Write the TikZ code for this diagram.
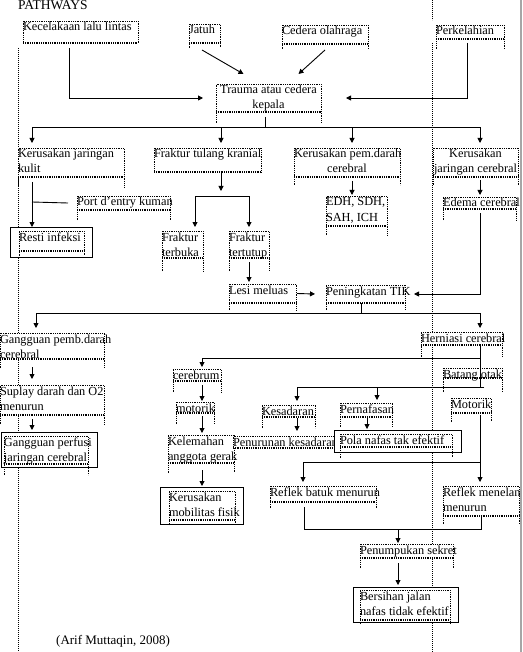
\documentclass[tikz,border=0pt]{standalone}
\usepackage{fontspec}
\setmainfont{Liberation Serif}
\usetikzlibrary{arrows.meta}
\newcommand\tstrut{\rule{0pt}{10pt}}
\tikzset{
  guide/.style={line width=0.6pt, dash pattern=on 0.6pt off 1.4pt, black},
  tbnode/.style={fill=white, inner sep=0pt, outer sep=0pt, anchor=north west, font=\fontsize{12.3pt}{15pt}\selectfont},
  tbline/.style={line width=0.6pt, dash pattern=on 0.6pt off 1.2pt, black},
  tbthick/.style={line width=1.3pt, dash pattern=on 0.8pt off 1pt, black},
  solidframe/.style={draw=black, line width=0.9pt, fill=white, inner sep=0pt, outer sep=0pt, anchor=north west},
  conn/.style={line width=0.9pt, black},
  arr/.style={conn, -{Triangle[length=5pt,width=5pt]}},
  plain/.style={inner sep=0pt, font=\fontsize{12pt}{15pt}\selectfont},
}
% #1 align, #2 name, #3 x1, #4 y1 (top), #5 x2, #6 y2 (thick bottom), #7 y3 (side ends), #8 text
\newcommand\tbox[8][\raggedright]{%
  \pgfmathsetmacro\tbW{#5-#3}%
  \pgfmathsetmacro\tbT{#6-#4}%
  \pgfmathsetmacro\tbE{#7-#6}%
  \node[tbnode] (#2) at (#3,#4) {\parbox[t][\tbT pt][t]{\tbW pt}{#1\tstrut #8}};
  \draw[tbline] ([yshift=-\tbE pt]#2.south west) -- (#2.north west) -- (#2.north east) -- ([yshift=-\tbE pt]#2.south east);
  \draw[tbthick] (#2.south west) -- (#2.south east);
}
% #1 name, #2 x1, #3 y1, #4 x2, #5 y2
\newcommand\sframe[5]{%
  \pgfmathsetmacro\sfW{#4-#2}%
  \pgfmathsetmacro\sfH{#5-#3}%
  \node[solidframe, minimum width=\sfW pt, minimum height=\sfH pt] (#1) at (#2,#3) {};
}
\begin{document}
\begin{tikzpicture}[x=1pt,y=-1pt]
\useasboundingbox[fill=white] (0,0) rectangle (522,652);
% page guides
\draw[guide] (18,48) -- (18,652);
\draw[guide] (432,0) -- (432,20);
\draw[guide] (432,43) -- (432,652);

% title
\node[plain, font=\fontsize{13.5pt}{15pt}\selectfont, anchor=base west] (title) at (18,10) {PATHWAYS};

% causes
\tbox{kec}{23}{21}{138}{43}{43}{\mbox{Kecelakaan lalu lintas}}
\tbox{jatuh}{189}{24}{220}{43}{48}{\mbox{Jatuh}}
\tbox{cedera}{282}{25}{368}{44}{49}{\mbox{Cedera olahraga}}
\tbox{perk}{436}{25}{504}{39}{49}{\mbox{Perkelahian}}
\tbox[\centering]{trauma}{216}{84}{321}{112}{123}{\mbox{Trauma atau cedera}\\\mbox{kepala}}

% level 2
\tbox{kulit}{18}{148}{124}{177}{187}{\mbox{Kerusakan jaringan}\\\mbox{kulit}}
\tbox{kranial}{154}{148}{261}{172}{172}{\mbox{Fraktur tulang kranial}}
\tbox[\centering]{pemdarah}{294}{148}{400}{177}{185}{\mbox{Kerusakan pem.darah}\\\mbox{cerebral}}
\tbox[\centering]{jarcer}{433}{148}{518}{177}{185}{\mbox{Kerusakan}\\\mbox{jaringan cerebral}}

\tbox{port}{77}{196}{170}{210}{220}{\mbox{Port d’entry kuman}}
\sframe{restiO}{10}{227}{92}{257}
\tbox{restiI}{19}{231}{84}{251}{256}{\mbox{Resti infeksi}}
\tbox{terbuka}{162}{231}{203}{258}{271}{\mbox{Fraktur}\\\mbox{terbuka}}
\tbox{tertutup}{229}{231}{269}{258}{271}{\mbox{Fraktur}\\\mbox{tertutup}}
\tbox{lesi}{229}{284}{296}{303}{310}{\mbox{Lesi meluas}}
\tbox{tik}{326}{285}{405}{303}{310}{\mbox{Peningkatan TIK}}
\tbox{edh}{326}{196}{387}{226}{235}{\mbox{EDH, SDH,}\\\mbox{SAH, ICH}}
\tbox{edema}{443}{197}{516}{209}{220}{\mbox{Edema cerebral}}

% left column
\tbox{gpemb}{0}{333}{104}{359}{368}{\mbox{Gangguan pemb.darah}\\\mbox{cerebral}}
\tbox{suplay}{0}{385}{104}{415}{424}{\mbox{Suplay darah dan O2}\\\mbox{menurun}}
\sframe{gperfO}{1}{432}{97}{467}
\tbox{gperfI}{4}{436}{88}{464}{475}{\mbox{Gangguan perfusi}\\\mbox{jaringan cerebral}}

% right part
\tbox{herniasi}{421}{332}{502}{345}{357}{\mbox{Herniasi cerebral}}
\tbox{cerebrum}{173}{369}{221}{381}{392}{\mbox{cerebrum}}
\tbox{motorik}{176}{402}{214}{413}{424}{\mbox{motorik}}
\tbox{kelemahan}{168}{435}{234}{463}{473}{\mbox{Kelemahan}\\\mbox{anggota gerak}}
\sframe{mobilO}{160}{487}{243}{524}
\tbox{mobilI}{169}{491}{235}{520}{525}{\mbox{Kerusakan}\\\mbox{mobilitas fisik}}
\tbox{batang}{443}{368}{502}{378}{392}{\mbox{Batang otak}}
\tbox{kesadaran}{262}{405}{315}{417}{428}{\mbox{Kesadaran}}
\tbox{pernafasan}{340}{403}{392}{417}{427}{\mbox{Pernafasan}}
\tbox{penkes}{233}{436}{335}{448}{448}{\mbox{Penurunan kesadaran}}
\sframe{polaO}{334}{430}{461}{452}
\tbox{polaI}{340}{434}{452}{447}{458}{\mbox{Pola nafas tak efektif}}
\tbox{motorikr}{451}{398}{491}{413}{422}{\mbox{Motorik}}
\tbox{batuk}{270}{486}{376}{502}{508}{\mbox{Reflek batuk menurun}}
\tbox{menelan}{443}{486}{519}{516}{524}{\mbox{Reflek menelan}\\\mbox{menurun}}
\tbox{sekret}{360}{544}{453}{558}{568}{\mbox{Penumpukan sekret}}
\sframe{bersihanO}{353}{587}{458}{622}
\tbox{bersihanI}{360}{590}{450}{620}{624}{\mbox{Bersihan jalan}\\\mbox{nafas tidak efektif}}

% connectors: causes -> trauma
\draw[arr] ([xshift=-11.5pt,yshift=-5pt]kec.south) |- ([xshift=-13pt]trauma.west);
\draw[arr] ([xshift=-2.5pt,yshift=-7pt]jatuh.south) -- ([xshift=-25pt,yshift=10pt]trauma.north);
\draw[arr] ([yshift=-6pt]cedera.south) -- ([xshift=30pt,yshift=10pt]trauma.north);
\draw[arr] ([xshift=-3pt,yshift=-4pt]perk.south) |- ([xshift=25pt]trauma.east);

% trauma -> level 2
\coordinate (tsplit) at (265,127);
\draw[conn] ([xshift=-3.5pt,yshift=-5pt]trauma.south) -- (tsplit);
\draw[arr] (tsplit) -| ([xshift=-39pt,yshift=5pt]kulit.north);
\draw[arr] (tsplit) -| ([xshift=13.5pt,yshift=5pt]kranial.north);
\draw[arr] (tsplit) -| ([xshift=5pt,yshift=5pt]pemdarah.north);
\draw[arr] (tsplit) -| ([xshift=4.5pt,yshift=5pt]jarcer.north);

% kulit
\draw[arr] ([xshift=-39pt,yshift=-5pt]kulit.south) -- ([xshift=-19pt]restiO.north);
\coordinate (kb) at (32,202);
\draw[conn] (kb) -- ([xshift=-9pt]port.west);

% kranial
\draw[arr] ([xshift=13.5pt]kranial.south) -- ([xshift=13.5pt,yshift=-19pt]kranial.south);
\coordinate (ks) at (222,196);
\draw[arr] (ks) -| ([xshift=12.5pt,yshift=4pt]terbuka.north);
\draw[arr] (ks) -| ([yshift=4pt]tertutup.north);
\draw[arr] ([yshift=-4pt]tertutup.south) -- ([xshift=-13.5pt,yshift=2pt]lesi.north);
\draw[arr] ([xshift=1pt]lesi.east) -- ([xshift=-11pt]tik.west);

% pem.darah, jaringan cerebral
\draw[arr] ([xshift=5pt,yshift=-4pt]pemdarah.south) -- ([xshift=-4.5pt,yshift=1pt]edh.north);
\draw[arr] ([xshift=4.5pt,yshift=-3pt]jarcer.south) -- ([xshift=0.5pt,yshift=2pt]edema.north);
\draw[arr] ([xshift=0.5pt,yshift=-4pt]edema.south) |- ([xshift=9pt]tik.east);

% TIK -> split
\coordinate (tb) at (361,313);
\draw[conn] ([xshift=-4.5pt]tik.south) -- (tb);
\draw[arr] (tb) -| ([xshift=-16pt,yshift=5pt]gpemb.north);
\draw[arr] (tb) -| ([xshift=18.5pt,yshift=4pt]herniasi.north);

% left column
\draw[arr] ([xshift=-20pt,yshift=-8pt]gpemb.south) -- ([xshift=-20pt,yshift=6pt]suplay.north);
\draw[arr] ([xshift=-20pt,yshift=-4pt]suplay.south) -- ([xshift=-17pt,yshift=2pt]gperfO.north);

% herniasi
\draw[conn] ([xshift=18.5pt]herniasi.south) -- ([xshift=18.5pt,yshift=-42pt]herniasi.south);
\coordinate (hsplit) at (480,358);
\draw[arr] (hsplit) -| ([xshift=5pt,yshift=2pt]cerebrum.north);
\draw[arr] ([xshift=5pt,yshift=-4pt]cerebrum.south) -- ([xshift=7pt,yshift=1pt]motorik.north);
\draw[arr] ([xshift=7pt,yshift=-3pt]motorik.south) -- ([xshift=1pt,yshift=2pt]kelemahan.north);
\draw[arr] ([xshift=1pt,yshift=-7pt]kelemahan.south) -- ([xshift=0.5pt,yshift=1pt]mobilO.north);

% batang otak
\coordinate (bsplit) at (484,387);
\draw[arr] (bsplit) -| ([xshift=8.5pt,yshift=4pt]kesadaran.north);
\draw[arr] (bsplit) -| ([xshift=11pt,yshift=3pt]pernafasan.north);
\draw[arr] ([xshift=8.5pt,yshift=-1pt]kesadaran.south) -- ([xshift=13pt,yshift=5pt]penkes.north);
\draw[arr] ([xshift=1pt,yshift=-1pt]pernafasan.south) -- ([xshift=-30.5pt,yshift=1pt]polaO.north);

% motorik right
\draw[arr] ([xshift=9pt,yshift=-2pt]motorikr.south) -- ([xshift=-1pt,yshift=4pt]menelan.north);
\coordinate (msplit) at (480,462);
\draw[arr] (msplit) -| ([xshift=-20pt,yshift=4pt]batuk.north);

% reflexes -> sekret -> bersihan
\draw[conn] ([xshift=-19pt,yshift=-5pt]batuk.south) |- ([yshift=-13pt]menelan.south) -- ([yshift=-1pt]menelan.south);
\coordinate (rsplit) at (398,529);
\draw[arr] (rsplit) -- ([xshift=-8.5pt,yshift=1pt]sekret.north);
\draw[arr] ([xshift=-8.5pt,yshift=-5pt]sekret.south) -- ([xshift=-7.5pt,yshift=2pt]bersihanO.north);

% source
\node[plain, font=\fontsize{13pt}{15pt}\selectfont, anchor=base west] (src) at (56,644) {(Arif Muttaqin, 2008)};

% right border
\draw[gray!70, line width=2pt] (520.5,0) -- (520.5,652);
\end{tikzpicture}
\end{document}
